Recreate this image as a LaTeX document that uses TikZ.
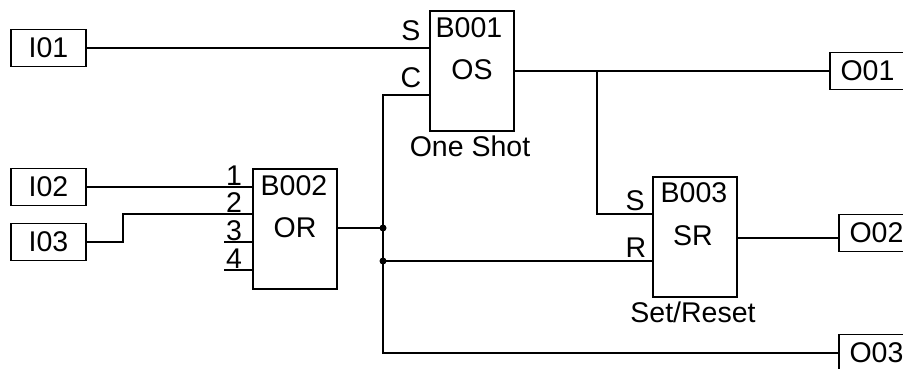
\documentclass[tikz,border=0pt]{standalone}
\usepackage{fontspec}
\setmainfont{Liberation Sans}
\begin{document}
\begin{tikzpicture}[x=1pt,y=-1pt,line width=1.1pt,
  txt/.style={font=\fontsize{28.5}{31}\selectfont,inner sep=0pt},
  io/.style={txt,draw,minimum width=75pt,minimum height=37pt},
  blk/.style={draw,minimum width=84pt,minimum height=120pt,inner sep=0pt},
  lbl/.style={txt,anchor=base},
  wire/.style={line width=1.1pt},
  dot/.style={circle,fill,inner sep=0pt,minimum size=7pt}]
\clip (0,0) rectangle (903,369);
\fill[white] (0,0) rectangle (903,369);
% inputs
\node[io] (I01) at (48.5,48) {I01};
\node[io] (I02) at (48.5,187) {I02};
\node[io] (I03) at (48.5,242) {I03};
% outputs
\node[io] (O01) at (867.5,71) {O01};
\node[io] (O02) at (876.5,233) {O02};
\node[io] (O03) at (876.5,353) {O03};
% blocks
\node[blk] (B001) at (472,71) {};
\node[blk] (B002) at (295,229) {};
\node[blk] (B003) at (695,237) {};
% block labels
\node[lbl] (t1) at (469,38) {B001};
\node[lbl] (t2) at (472,80) {OS};
\node[lbl] (t3) at (470,157) {One Shot};
\node[lbl] (t4) at (411,41) {S};
\node[lbl] (t5) at (411,88) {C};
\node[lbl] (t6) at (294,195) {B002};
\node[lbl] (t7) at (295,237) {OR};
\node[lbl] (n1) at (234,185) {1};
\node[lbl] (n2) at (234,212) {2};
\node[lbl] (n3) at (234,240) {3};
\node[lbl] (n4) at (234,268) {4};
\node[lbl] (t8) at (694,202) {B003};
\node[lbl] (t9) at (693,245) {SR};
\node[lbl] (t10) at (693,322) {Set/Reset};
\node[lbl] (t11) at (635,210) {S};
\node[lbl] (t12) at (636,257) {R};
% coordinates
\coordinate (cC) at (383,95);
\coordinate (jA) at (383,228);
\coordinate (jB) at (383,261);
\coordinate (q1) at (597,71);
\coordinate (q2) at (597,214);
\coordinate (i3a) at (123,242);
\coordinate (i3b) at (123,214);
\coordinate (s3) at (224,242);
\coordinate (s4) at (224,270);
\coordinate (b3o) at (737,238);
% wires
\draw[wire] (I01.east) -- (I01.east -| B001.west);
\draw[wire] (B001.west |- cC) -- (cC) -- (cC |- O03.west) -- (O03.west);
\draw[wire] (B001.east |- q1) -- (O01.west |- q1);
\draw[wire] (q1) -- (q2) -- (q2 -| B003.west);
\draw[wire] (b3o) -- (b3o -| O02.west);
\draw[wire] (I02.east) -- (I02.east -| B002.west);
\draw[wire] (I03.east) -- (i3a) -- (i3b) -- (i3b -| B002.west);
\draw[wire] (s3) -- (s3 -| B002.west);
\draw[wire] (s4) -- (s4 -| B002.west);
\draw[wire] (B002.east |- jA) -- (jA);
\draw[wire] (jB) -- (jB -| B003.west);
\node[dot] (dA) at (jA) {};
\node[dot] (dB) at (jB) {};
\end{tikzpicture}
\end{document}
